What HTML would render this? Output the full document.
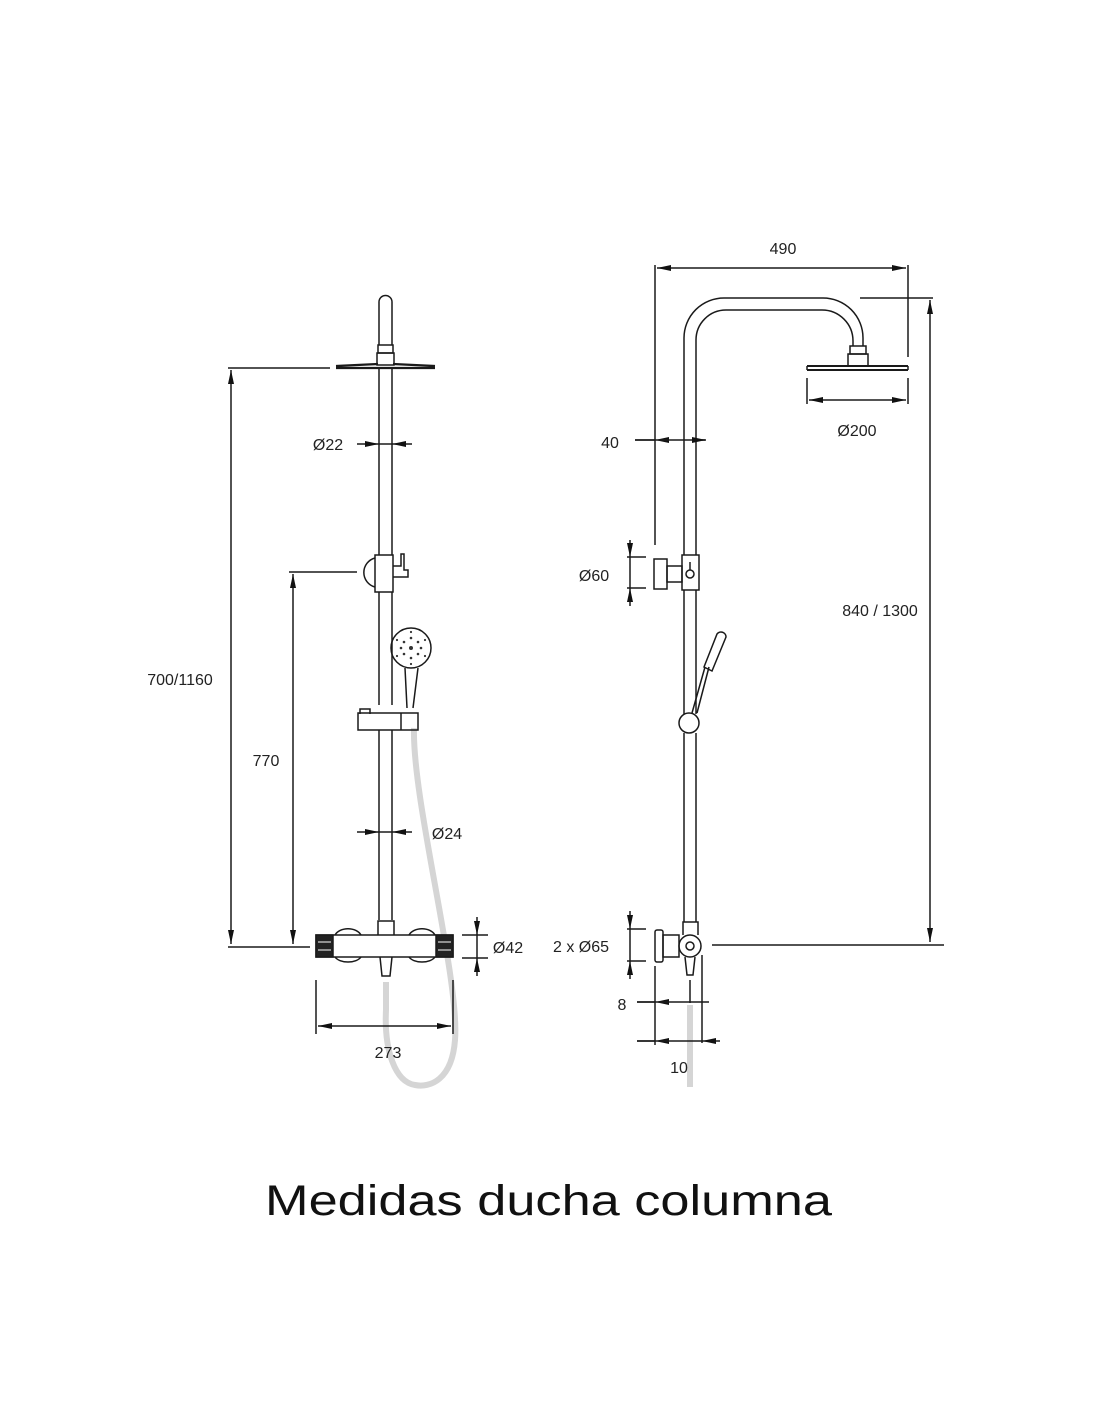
<!DOCTYPE html>
<html><head><meta charset="utf-8"><style>html,body{margin:0;padding:0;background:#fff}svg{display:block}</style></head>
<body>
<svg width="1100" height="1422" viewBox="0 0 1100 1422" xmlns="http://www.w3.org/2000/svg" font-family="Liberation Sans, sans-serif">
<defs>
<marker id="a" markerWidth="14" markerHeight="6" refX="14" refY="3" orient="auto" markerUnits="userSpaceOnUse"><path d="M0,0 L14,3 L0,6 Z" fill="#111"/></marker>
<marker id="b" markerWidth="14" markerHeight="6" refX="0" refY="3" orient="auto" markerUnits="userSpaceOnUse"><path d="M14,0 L0,3 L14,6 Z" fill="#111"/></marker>
</defs>
<g stroke="#1a1a1a" stroke-width="1.5" fill="none">
<!-- LEFT VIEW -->
<!-- hose -->
<path d="M414,728 C412,800 460,980 455,1040 C452,1080 430,1088 415,1085 C395,1082 384,1050 386,1010 L386,982" stroke="#d5d5d5" stroke-width="6"/>
<!-- top pipe -->
<path d="M379,345 L379,302 A6.5,6.5 0 0 1 392,302 L392,345"/>
<rect x="378" y="345" width="15" height="8"/>
<rect x="377" y="353" width="17" height="12"/>
<path d="M336,366 L378,364 M393,364 L435,366 M336,368 L435,368" stroke-width="2.2"/>
<line x1="379" y1="368" x2="379" y2="555"/><line x1="392" y1="368" x2="392" y2="555"/>
<path d="M375,555 h18 v37 h-18 z"/>
<path d="M375,558 A15,15 0 0 0 375,587"/>
<path d="M393,566 h8 v-12 h3 v16 h4 v7 h-15"/>
<line x1="379" y1="592" x2="379" y2="705"/><line x1="392" y1="592" x2="392" y2="705"/>
<!-- hand shower -->
<circle cx="411" cy="648" r="20"/>
<g fill="#333" stroke="none"><circle cx="411" cy="648" r="2"/><circle cx="404" cy="642" r="1.3"/><circle cx="418" cy="642" r="1.3"/><circle cx="404" cy="654" r="1.3"/><circle cx="418" cy="654" r="1.3"/><circle cx="411" cy="638" r="1.3"/><circle cx="411" cy="658" r="1.3"/><circle cx="401" cy="648" r="1.3"/><circle cx="421" cy="648" r="1.3"/><circle cx="397" cy="640" r="1.1"/><circle cx="425" cy="640" r="1.1"/><circle cx="397" cy="656" r="1.1"/><circle cx="425" cy="656" r="1.1"/><circle cx="411" cy="632" r="1.1"/><circle cx="411" cy="664" r="1.1"/></g>
<path d="M405,668 L407,708 M418,668 L413,708"/>
<!-- slider bracket -->
<path d="M360,714 v-5 h10 v5"/>
<path d="M358,713 h60 v17 h-60 z"/>
<line x1="401" y1="713" x2="401" y2="730"/>
<line x1="379" y1="730" x2="379" y2="920"/><line x1="392" y1="730" x2="392" y2="920"/>
<!-- mixer -->
<path d="M378,935 v-14 h16 v14"/>
<path d="M335,935 A14,10 0 0 1 361,935 M409,935 A14,10 0 0 1 435,935"/>
<path d="M335,957 A14,8 0 0 0 361,957 M409,957 A14,8 0 0 0 435,957"/>
<rect x="316" y="935" width="137" height="22"/>
<rect x="316" y="935" width="17" height="22" fill="#222"/>
<rect x="436" y="935" width="17" height="22" fill="#222"/>
<g stroke="#fff" stroke-width="1"><line x1="318" y1="942" x2="331" y2="942"/><line x1="318" y1="950" x2="331" y2="950"/><line x1="438" y1="942" x2="451" y2="942"/><line x1="438" y1="950" x2="451" y2="950"/></g>
<path d="M380,957 l2,19 h8 l2,-19"/>
<!-- dims left -->
<line x1="228" y1="368" x2="330" y2="368"/>
<line x1="231" y1="370" x2="231" y2="944" marker-start="url(#b)" marker-end="url(#a)"/>
<line x1="228" y1="947" x2="310" y2="947"/>
<line x1="289" y1="572" x2="357" y2="572"/>
<line x1="293" y1="574" x2="293" y2="944" marker-start="url(#b)" marker-end="url(#a)"/>
<line x1="357" y1="444" x2="379" y2="444" marker-end="url(#a)"/><line x1="412" y1="444" x2="392" y2="444" marker-end="url(#a)"/><line x1="379" y1="444" x2="392" y2="444"/>
<line x1="357" y1="832" x2="379" y2="832" marker-end="url(#a)"/><line x1="412" y1="832" x2="392" y2="832" marker-end="url(#a)"/><line x1="379" y1="832" x2="392" y2="832"/>
<line x1="462" y1="935" x2="488" y2="935"/><line x1="462" y1="958" x2="488" y2="958"/>
<line x1="477" y1="917" x2="477" y2="935" marker-end="url(#a)"/><line x1="477" y1="976" x2="477" y2="958" marker-end="url(#a)"/><line x1="477" y1="935" x2="477" y2="958"/>
<line x1="316" y1="980" x2="316" y2="1034"/><line x1="453" y1="980" x2="453" y2="1034"/>
<line x1="318" y1="1026" x2="451" y2="1026" marker-start="url(#b)" marker-end="url(#a)"/>

<!-- RIGHT VIEW -->
<line x1="690" y1="1005" x2="690" y2="1087" stroke="#d5d5d5" stroke-width="6"/>
<path d="M684,555 L684,338 A40,40 0 0 1 724,298 L823,298 A40,40 0 0 1 863,338 L863,346"/>
<path d="M696,555 L696,340 A30,30 0 0 1 726,310 L822,310 A31,31 0 0 1 853,341 L853,346"/>
<rect x="850" y="346" width="16" height="8"/>
<rect x="848" y="354" width="20" height="12"/>
<path d="M807,366 L908,366 M807,370 L908,370" stroke-width="2"/>
<line x1="807" y1="366" x2="807" y2="370"/><line x1="908" y1="366" x2="908" y2="370"/>
<rect x="682" y="555" width="17" height="35"/>
<circle cx="690" cy="574" r="4"/><line x1="690" y1="562" x2="690" y2="570"/>
<rect x="654" y="559" width="13" height="30"/>
<rect x="667" y="566" width="15" height="16"/>
<line x1="684" y1="590" x2="684" y2="714"/><line x1="696" y1="590" x2="696" y2="714"/>
<circle cx="689" cy="723" r="10"/>
<path d="M692,713 L705,667 M697,713 L709,667"/>
<path d="M704,667 L717,634 A5,5 0 0 1 726,637 L712,671 Z"/>
<line x1="684" y1="733" x2="684" y2="922"/><line x1="696" y1="733" x2="696" y2="922"/>
<path d="M683,935 v-13 h15 v13"/>
<circle cx="690" cy="946" r="11"/><circle cx="690" cy="946" r="4"/>
<rect x="655" y="930" width="8" height="32" rx="2"/>
<path d="M663,935 h16 v22 h-16 z"/>
<path d="M685,957 l2,18 h6 l2,-18"/>
<!-- dims right -->
<line x1="655" y1="265" x2="655" y2="545"/><line x1="908" y1="265" x2="908" y2="357"/>
<line x1="657" y1="268" x2="906" y2="268" marker-start="url(#b)" marker-end="url(#a)"/>
<line x1="807" y1="378" x2="807" y2="404"/><line x1="908" y1="378" x2="908" y2="404"/>
<line x1="809" y1="400" x2="906" y2="400" marker-start="url(#b)" marker-end="url(#a)"/>
<line x1="860" y1="298" x2="933" y2="298"/>
<line x1="930" y1="300" x2="930" y2="942" marker-start="url(#b)" marker-end="url(#a)"/>
<line x1="712" y1="945" x2="944" y2="945"/>
<line x1="635" y1="440" x2="655" y2="440" marker-end="url(#b)"/><line x1="635" y1="440" x2="705" y2="440"/>
<line x1="702" y1="440" x2="706" y2="440" marker-end="url(#a)"/>
<line x1="627" y1="557" x2="646" y2="557"/><line x1="627" y1="588" x2="646" y2="588"/>
<line x1="630" y1="540" x2="630" y2="557" marker-end="url(#a)"/><line x1="630" y1="606" x2="630" y2="588" marker-end="url(#a)"/><line x1="630" y1="557" x2="630" y2="588"/>
<line x1="627" y1="929" x2="646" y2="929"/><line x1="627" y1="961" x2="646" y2="961"/>
<line x1="630" y1="911" x2="630" y2="929" marker-end="url(#a)"/><line x1="630" y1="979" x2="630" y2="961" marker-end="url(#a)"/><line x1="630" y1="929" x2="630" y2="961"/>
<line x1="655" y1="966" x2="655" y2="1045"/><line x1="702" y1="955" x2="702" y2="1043"/><line x1="690" y1="980" x2="690" y2="1003"/>
<line x1="637" y1="1002" x2="655" y2="1002" marker-end="url(#b)"/><line x1="637" y1="1002" x2="709" y2="1002"/>
<line x1="637" y1="1041" x2="655" y2="1041" marker-end="url(#b)"/><line x1="637" y1="1041" x2="702" y2="1041"/>
<line x1="720" y1="1041" x2="702" y2="1041" marker-end="url(#a)"/>
</g>
<g fill="#222" font-size="16" text-anchor="middle">
<text x="328" y="450">Ø22</text>
<text x="180" y="685">700/1160</text>
<text x="266" y="766">770</text>
<text x="447" y="839">Ø24</text>
<text x="508" y="953">Ø42</text>
<text x="388" y="1058">273</text>
<text x="783" y="254">490</text>
<text x="857" y="436">Ø200</text>
<text x="610" y="448">40</text>
<text x="594" y="581">Ø60</text>
<text x="880" y="616">840 / 1300</text>
<text x="581" y="952">2 x Ø65</text>
<text x="622" y="1010">8</text>
<text x="679" y="1073">10</text>
</g>
<text x="265" y="1215" font-size="43" fill="#111" textLength="567" lengthAdjust="spacingAndGlyphs">Medidas ducha columna</text>
</svg>
</body></html>
